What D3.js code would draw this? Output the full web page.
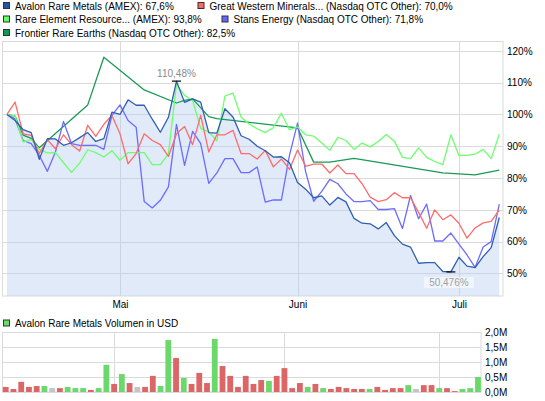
<!DOCTYPE html>
<html><head><meta charset="utf-8">
<script src="https://cdn.jsdelivr.net/npm/d3@7"></script>
<style>
body{margin:0;background:#fff}
svg{display:block}
text{font-family:"Liberation Sans",Arial,sans-serif;font-size:10px}
</style>
</head><body>
<svg id="c" width="545" height="401"></svg>
<script>
// ---- data (trading-day index 0..61) ----
const monthTickIdx = [14, 36, 56];
const monthLabels = ["Mai", "Juni", "Juli"];
const pctTicks = [50, 60, 70, 80, 90, 100, 110, 120];
const volTicks = [0, 0.5, 1.0, 1.5, 2.0];

const seriesNames = [
  "Avalon Rare Metals (AMEX): 67,6%",
  "Great Western Minerals... (Nasdaq OTC Other): 70,0%",
  "Rare Element Resource... (AMEX): 93,8%",
  "Stans Energy (Nasdaq OTC Other): 71,8%",
  "Frontier Rare Earths (Nasdaq OTC Other): 82,5%"
];
const seriesColors = ["#2f5fb3", "#ff6b6b", "#6cff6c", "#6c6cff", "#1a9955"];
const legendColors = ["#2255aa", "#ff6666", "#66ff66", "#6666ff", "#119955"];

const avalon = [100,98.1,95.2,94.3,85.9,92.4,92.3,90.3,91.1,92.7,94.3,91.5,92.4,100.7,100.0,104.6,102.9,102.9,98.5,94.4,
  99.1,110.48,103.8,104.9,103.9,94.3,94.1,101.8,99.2,93.3,92.2,90.0,88.6,86.6,86.7,84.8,78.6,76.5,73.8,74.4,
  71.5,73.9,72.5,67.3,65.8,65.6,64.0,66.0,61.9,59.2,58.3,53.2,53.4,53.4,50.6,50.476,55.1,52.3,51.8,55.3,58.1,67.6];
const greatWestern = [100,103.9,93.9,93.4,87.7,92.1,89.2,93.6,90.5,88.5,96.6,93.1,96.9,99.7,93.9,84.5,87.7,93.9,91.8,90.5,
  86.8,93.9,96.2,90.5,99.7,88.2,93.6,93.6,95.0,87.7,87.7,86.0,88.7,83.5,86.0,82.7,88.8,83.7,84.4,84.4,
  81.6,84.1,81.4,81.4,78.2,74.0,72.6,73.2,75.4,73.8,73.8,69.2,64.2,70.0,66.9,68.4,65.8,61.1,64.3,65.9,66.4,70.0];
const rareElement = [100,99.5,91.3,92.1,89.0,87.9,88.0,84.8,81.8,84.7,88.9,88.0,86.6,88.6,85.6,88.0,88.0,88.0,84.2,84.2,
  87.6,109.5,106.0,104.4,95.6,94.5,91.7,105.8,106.7,99.2,97.0,95.5,94.3,95.8,100.4,95.2,96.1,93.6,93.2,91.0,
  88.7,92.8,91.8,89.0,91.0,89.8,91.5,93.7,91.6,86.5,86.1,89.5,86.5,85.2,84.2,93.6,87.1,87.1,87.5,89.0,86.1,93.8];
const stans = [100,98.6,91.8,90.8,87.1,82.1,88.2,97.8,90.8,90.3,90.3,90.3,89.0,99.7,103.0,98.1,96.0,72.6,70.6,73.0,
  77.2,96.9,84.0,94.7,90.8,78.3,81.6,86.1,86.1,81.7,81.7,83.5,72.4,73.1,73.1,87.1,97.3,82.0,72.7,75.8,
  79.6,78.2,75.0,72.6,72.6,72.9,70.1,70.1,70.4,64.1,74.5,67.2,71.8,60.2,60.2,62.7,59.2,55.8,51.9,58.3,60.0,71.8];
const frontier = [100,99.5,93.5,92.5,89.5,null,null,null,null,null,103.0,null,118.0,null,null,null,null,107.7,null,null,
  null,103.6,104.4,104.9,null,99.3,98.7,null,null,null,null,null,null,null,null,null,95.8,null,85.0,null,
  85.0,null,null,86.2,null,null,null,null,null,null,null,null,null,null,81.6,null,null,null,81.0,null,null,82.5];

const volume = [0.17,0.10,0.34,0.17,0.20,0.20,0.13,0.13,0.17,0.13,0.13,0.07,0.13,0.91,0.27,0.60,0.30,0.17,0.17,0.54,
  0.20,1.74,1.14,0.47,0.27,0.64,0.30,1.78,0.87,0.54,0.17,0.54,0.27,0.40,0.37,0.54,0.80,0.13,0.30,0.17,
  0.27,0.13,0.10,0.17,0.13,0.10,0.10,0.10,0.17,0.07,0.13,0.13,0.23,0.10,0.23,0.23,0.13,0.13,0.03,0.10,0.13,0.50];
const volumeDir = ["d","d","d","d","d","u","f","d","u","u","u","d","u","u","d","u","d","f","d","d",
  "u","u","d","u","d","d","d","u","d","d","d","d","d","d","u","d","d","d","d","u",
  "d","u","d","d","d","d","d","u","d","d","d","d","u","f","d","d","u","d","d","u","u","u"];

// ---- drawing ----
const svg = d3.select("#c");
const gridCol = "#dadada";

// main panel scales
const x = d3.scaleLinear().domain([-0.56, 61.46]).range([2.5, 503]);
const y = d3.scaleLinear().domain([42.9, 123.1]).range([296, 41]);

// gridlines
const g = svg.append("g");
g.selectAll("line.h").data(pctTicks).join("line")
  .attr("x1", 2.5).attr("x2", 503).attr("y1", d => Math.round(y(d)) + 0.5).attr("y2", d => Math.round(y(d)) + 0.5)
  .attr("stroke", gridCol);
g.selectAll("line.v").data(monthTickIdx).join("line")
  .attr("y1", 41).attr("y2", 296).attr("x1", d => Math.round(x(d)) + 0.5).attr("x2", d => Math.round(x(d)) + 0.5)
  .attr("stroke", gridCol);
g.append("rect").attr("x", 2.5).attr("y", 41.5).attr("width", 500.5).attr("height", 254.5)
  .attr("fill", "none").attr("stroke", gridCol);

// Avalon area
const area = d3.area().x((d, i) => x(i)).y0(296).y1(d => y(d));
svg.append("path").datum(avalon).attr("d", area).attr("fill", "#b8cdf0").attr("fill-opacity", 0.42);

// lines (Avalon on top)
const line = d3.line().x(d => x(d.i)).y(d => y(d.v));
const allSeries = [avalon, greatWestern, rareElement, stans, frontier];
for (let k = allSeries.length - 1; k >= 0; k--) {
  const pts = allSeries[k].map((v, i) => ({i, v})).filter(d => d.v != null);
  svg.append("path").datum(pts).attr("d", line).attr("fill", "none")
    .attr("stroke", seriesColors[k]).attr("stroke-width", 1.3).attr("stroke-linejoin", "round");
}

// max / min markers for Avalon
const iMax = d3.maxIndex(avalon), iMin = d3.minIndex(avalon);
const fmtPct = v => String(v).replace(".", ",") + "%";
[iMax, iMin].forEach(i => {
  svg.append("line").attr("x1", x(i) - 4.5).attr("x2", x(i) + 4.5)
    .attr("y1", y(avalon[i])).attr("y2", y(avalon[i])).attr("stroke", "#000").attr("stroke-width", 1.2);
});
svg.append("text").attr("x", x(iMax)).attr("y", y(avalon[iMax]) - 4).attr("text-anchor", "middle")
  .attr("fill", "#8a8a8a").text(fmtPct(avalon[iMax]));
svg.append("rect").attr("x", x(iMin) - 27).attr("y", y(avalon[iMin]) + 5).attr("width", 50).attr("height", 11)
  .attr("fill", "#ffffff").attr("fill-opacity", 0.55);
svg.append("text").attr("x", x(iMin) - 2).attr("y", y(avalon[iMin]) + 14.5).attr("text-anchor", "middle")
  .attr("fill", "#a0a0a0").text(fmtPct(avalon[iMin]));

// axes
const yAxis = d3.axisRight(y).tickValues(pctTicks).tickSize(0).tickPadding(4).tickFormat(d => d + "%");
svg.append("g").attr("transform", "translate(503,0)").call(yAxis)
  .call(a => a.select(".domain").remove())
  .call(a => a.selectAll("text").attr("fill", "#000").style("font-size", "10px").style("font-family", '"Liberation Sans",Arial,sans-serif'));
const xAxis = d3.axisBottom(x).tickValues(monthTickIdx).tickSize(0).tickPadding(5)
  .tickFormat(d => monthLabels[monthTickIdx.indexOf(d)]);
svg.append("g").attr("transform", "translate(0,296)").call(xAxis)
  .call(a => a.select(".domain").remove())
  .call(a => a.selectAll("text").attr("fill", "#000").style("font-size", "10px").style("font-family", '"Liberation Sans",Arial,sans-serif'));

// legend
const legendPos = [[3.5, 2.5], [198, 2.5], [3.5, 16], [222, 16], [3.5, 29.5]];
seriesNames.forEach((name, k) => {
  const [lx, ly] = legendPos[k];
  svg.append("rect").attr("x", lx).attr("y", ly).attr("width", 6).attr("height", 6)
    .attr("fill", legendColors[k]).attr("stroke", "#333");
  svg.append("text").attr("x", lx + 11.5).attr("y", ly + 7).attr("fill", "#000").text(name);
});

// ---- volume panel ----
const xv = d3.scaleLinear().domain([-0.39, 61.39]).range([2.7, 481]);
const yv = d3.scaleLinear().domain([0, 2]).range([392, 332.3]);
const gv = svg.append("g");
gv.selectAll("line.h").data(volTicks).join("line")
  .attr("x1", 2.5).attr("x2", 481).attr("y1", d => Math.round(yv(d)) + 0.5).attr("y2", d => Math.round(yv(d)) + 0.5)
  .attr("stroke", gridCol);
gv.selectAll("line.v").data(monthTickIdx).join("line")
  .attr("y1", 332).attr("y2", 392).attr("x1", d => Math.round(xv(d)) + 0.5).attr("x2", d => Math.round(xv(d)) + 0.5)
  .attr("stroke", gridCol);
gv.append("rect").attr("x", 2.5).attr("y", 332.5).attr("width", 478.5).attr("height", 59.5)
  .attr("fill", "none").attr("stroke", gridCol);

const dirColor = {u: "#6ad86a", d: "#dc6666", f: "#c4c4c4"};
svg.append("g").selectAll("rect").data(volume).join("rect")
  .attr("x", (d, i) => xv(i) - 2.9).attr("width", 5.8)
  .attr("y", d => yv(d)).attr("height", d => yv(0) - yv(d))
  .attr("fill", (d, i) => dirColor[volumeDir[i]]);

const vAxis = d3.axisRight(yv).tickValues(volTicks).tickSize(0).tickPadding(4)
  .tickFormat(d => d.toFixed(1).replace(".", ",") + "M");
svg.append("g").attr("transform", "translate(481,0)").call(vAxis)
  .call(a => a.select(".domain").remove())
  .call(a => a.selectAll("text").attr("fill", "#000").style("font-size", "10px").style("font-family", '"Liberation Sans",Arial,sans-serif'));

svg.append("rect").attr("x", 3.5).attr("y", 320).attr("width", 6).attr("height", 6)
  .attr("fill", "#66dd66").attr("stroke", "#333");
svg.append("text").attr("x", 15).attr("y", 327).attr("fill", "#000").text("Avalon Rare Metals Volumen in USD");
</script>
</body></html>
